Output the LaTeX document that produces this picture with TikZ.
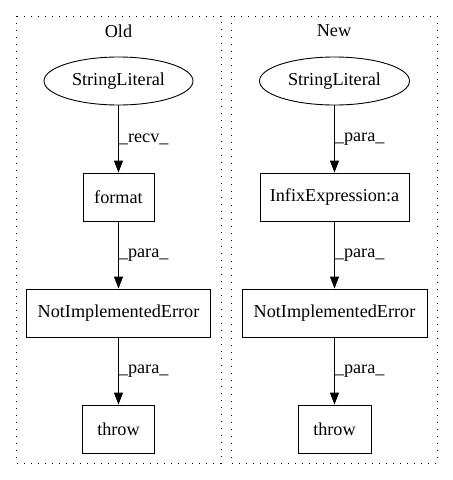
\documentclass[tikz,border=0pt]{standalone}
\usepackage{fontspec}
\setmainfont{Liberation Serif}
\usetikzlibrary{arrows.meta,shapes.geometric}
\begin{document}
\begin{tikzpicture}[x=1pt,y=-1pt,
  font=\fontsize{18.2}{20}\selectfont,
  boxnode/.style={draw,line width=0.9pt,rectangle,minimum height=48pt,inner sep=0pt},
  ellnode/.style={draw,line width=0.9pt,ellipse,minimum height=48pt,inner sep=0pt},
  edge/.style={draw,line width=0.9pt,-{Triangle[length=12pt,width=9pt]}},
  elabel/.style={right,inner sep=0pt,font=\fontsize{18.2}{20}\selectfont},
  cluster/.style={draw,line width=1pt,dash pattern=on 1.2pt off 5.8pt}]
\useasboundingbox (0,0) rectangle (453,480);
% clusters
\draw[cluster] (16,16) rectangle (221,463);
\draw[cluster] (231,16) rectangle (437,463);
\node (oldlabel) at (118.5,31) {Old};
\node (newlabel) at (334,31) {New};
% Old
\node[ellnode,minimum width=149pt] (osl) at (118.5,81) {StringLiteral};
\node[boxnode,minimum width=71pt] (ofmt) at (118.5,197) {format};
\node[boxnode,minimum width=184pt] (onie) at (118.5,313) {NotImplementedError};
\node[boxnode,minimum width=72pt] (othr) at (118.5,429) {throw};
\draw[edge] (osl) -- node[elabel,pos=0.5,xshift=0pt] {\_recv\_} (ofmt);
\draw[edge] (ofmt) -- node[elabel,pos=0.5] {\_para\_} (onie);
\draw[edge] (onie) -- node[elabel,pos=0.5] {\_para\_} (othr);
% New
\node[ellnode,minimum width=150pt] (nsl) at (334.5,81) {StringLiteral};
\node[boxnode,minimum width=149pt] (ninf) at (334.5,197) {InfixExpression:a};
\node[boxnode,minimum width=185pt] (nnie) at (334.5,313) {NotImplementedError};
\node[boxnode,minimum width=73pt] (nthr) at (334.5,429) {throw};
\draw[edge] (nsl) -- node[elabel,pos=0.5] {\_para\_} (ninf);
\draw[edge] (ninf) -- node[elabel,pos=0.5] {\_para\_} (nnie);
\draw[edge] (nnie) -- node[elabel,pos=0.5] {\_para\_} (nthr);
\end{tikzpicture}
\end{document}
